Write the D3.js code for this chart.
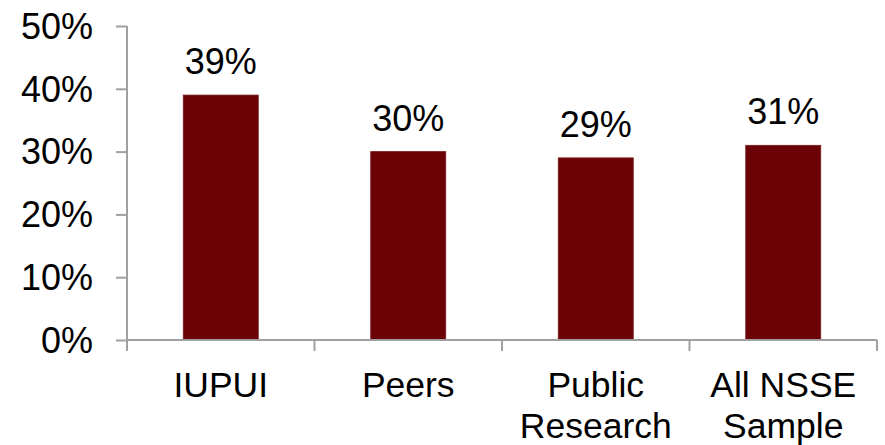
<!DOCTYPE html>
<html><head><meta charset="utf-8">
<script src="https://cdn.jsdelivr.net/npm/d3@7"></script>
<style>body{margin:0;background:#fff}text{font-family:"Liberation Sans",Arial,sans-serif;fill:#000}</style>
</head><body>
<script>
const categories = [["IUPUI"], ["Peers"], ["Public", "Research"], ["All NSSE", "Sample"]];
const values = [39, 30, 29, 31];
const yTicks = [0, 10, 20, 30, 40, 50];

const W = 885, H = 445;
const svg = d3.select("body").append("svg").attr("width", W).attr("height", H);
const x0 = 127, x1 = 877, yBase = 340, yTop = 26;
const keys = categories.map(c => c.join(" "));
const x = d3.scaleBand().domain(keys).range([x0, x1]).paddingInner(0.6).paddingOuter(0.3);
const y = d3.scaleLinear().domain([0, 50]).range([yBase, yTop]);
const axisColor = "#a0a0a0";

// bars
svg.selectAll("rect.bar").data(values).enter().append("rect")
  .attr("x", (d, i) => x(keys[i])).attr("width", x.bandwidth())
  .attr("y", d => y(d)).attr("height", d => y(0) - y(d))
  .attr("fill", "#6b0205").attr("stroke", "#7a1a1c").attr("stroke-width", 0.8);

// value labels
svg.selectAll("text.val").data(values).enter().append("text")
  .attr("x", (d, i) => x(keys[i]) + x.bandwidth() / 2)
  .attr("y", d => y(d) - 21)
  .attr("text-anchor", "middle").attr("font-size", 36)
  .text(d => d + "%");

// y axis
const yAxis = d3.axisLeft(y).tickValues(yTicks).tickSize(11).tickPadding(23).tickFormat(d => d + "%");
const gy = svg.append("g").attr("transform", `translate(${x0},0)`).call(yAxis);
gy.select(".domain").remove();
gy.selectAll(".tick line").attr("stroke", axisColor).attr("stroke-width", 2);
gy.selectAll(".tick text").attr("font-size", 36).attr("fill", "#000").attr("dy", "0.34em")
  .attr("font-family", '"Liberation Sans",Arial,sans-serif');
svg.append("line").attr("x1", x0).attr("x2", x0).attr("y1", yTop).attr("y2", yBase + 11)
  .attr("stroke", axisColor).attr("stroke-width", 2);

// x axis line
svg.append("line").attr("x1", x0).attr("x2", x1).attr("y1", yBase).attr("y2", yBase)
  .attr("stroke", axisColor).attr("stroke-width", 2);
const bounds = keys.map(k => x(k) - x.step() * x.paddingInner() / 2).slice(1).concat([x1]);
svg.selectAll("line.xt").data(bounds).enter().append("line")
  .attr("x1", d => d).attr("x2", d => d).attr("y1", yBase).attr("y2", yBase + 11)
  .attr("stroke", axisColor).attr("stroke-width", 2);

// category labels
categories.forEach((lines, i) => {
  const t = svg.append("text").attr("text-anchor", "middle").attr("font-size", 35.5)
    .attr("x", x(keys[i]) + x.bandwidth() / 2).attr("y", 397);
  lines.forEach((l, j) => t.append("tspan").attr("x", x(keys[i]) + x.bandwidth() / 2)
    .attr("dy", j === 0 ? 0 : 41).text(l));
});
</script>
</body></html>
